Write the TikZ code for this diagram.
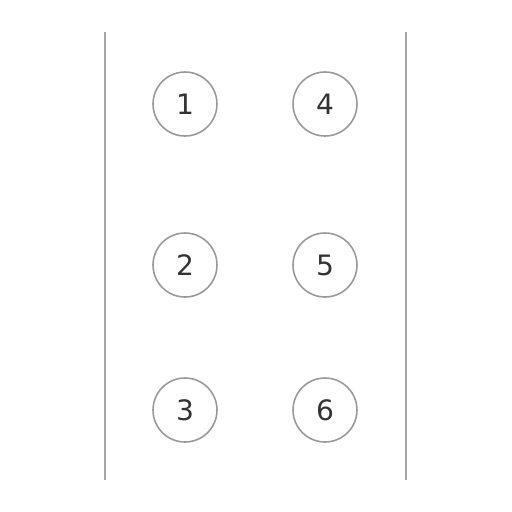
\documentclass[tikz,border=0pt]{standalone}
\usepackage{fontspec}
\setmainfont{DejaVu Sans}
\begin{document}
\begin{tikzpicture}[x=0.02cm,y=-0.02cm,
        seat/.style={circle,draw=black!40,line width=0.9pt,minimum size=1.28cm,inner sep=0pt,
          text=black!80,font=\fontsize{16}{16}\selectfont},
        wall/.style={draw=black!35,line width=1.6pt}]
      \useasboundingbox (0,0) rectangle (512,512);
      \coordinate (LT) at (105,32);
      \coordinate (LB) at (105,480);
      \coordinate (RT) at (406,32);
      \coordinate (RB) at (406,480);
      \node[seat] (s1) at (185,104) {1};
      \node[seat] (s2) at (185,265) {2};
      \node[seat] (s3) at (185,410) {3};
      \node[seat] (s4) at (325,104) {4};
      \node[seat] (s5) at (325,265) {5};
      \node[seat] (s6) at (325,410) {6};
      \path[wall] (LT) -- (LB) (RT) -- (RB);
    \end{tikzpicture}
\end{document}
